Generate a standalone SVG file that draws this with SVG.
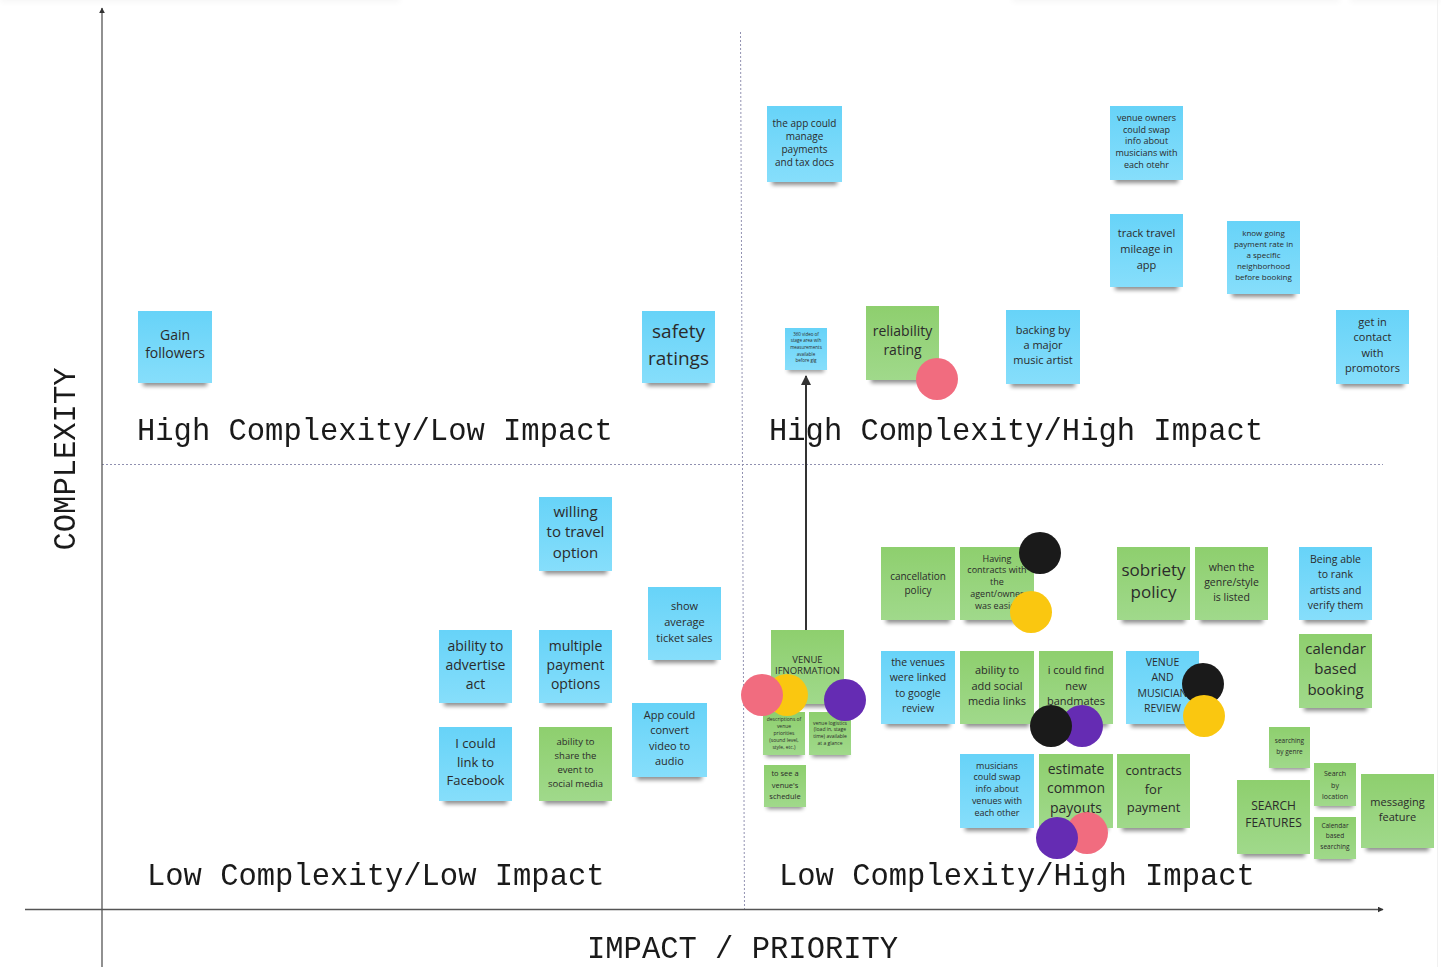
<svg xmlns="http://www.w3.org/2000/svg" width="1441" height="967" viewBox="0 0 1441 967">
<defs>
<linearGradient id="gb" x1="0" y1="0" x2="0" y2="1"><stop offset="0" stop-color="#67d3f8"/><stop offset="1" stop-color="#86defb"/></linearGradient>
<linearGradient id="gg" x1="0" y1="0" x2="0" y2="1"><stop offset="0" stop-color="#8ecf6e"/><stop offset="1" stop-color="#a0d98b"/></linearGradient>
<filter id="blur" x="-20%" y="-100%" width="140%" height="300%"><feGaussianBlur stdDeviation="2.2"/></filter>
<filter id="blur2" x="-5%" y="-200%" width="110%" height="500%"><feGaussianBlur stdDeviation="3"/></filter>
<marker id="ah" viewBox="0 0 10 10" refX="9" refY="5" markerWidth="6" markerHeight="6" orient="auto-start-reverse" markerUnits="userSpaceOnUse"><path d="M0,0 L10,5 L0,10 z" fill="#333"/></marker>
<marker id="ah2" viewBox="0 0 10 10" refX="9" refY="5" markerWidth="10" markerHeight="10" orient="auto" markerUnits="userSpaceOnUse"><path d="M0,0 L10,5 L0,10 z" fill="#333"/></marker>
</defs>
<style>
.b{fill:url(#gb)}
.g{fill:url(#gg)}
.sh{fill:#000;opacity:.45;filter:url(#blur)}
.t{font-family:"Open Sans","Noto Sans",sans-serif;fill:#2b2b2b;text-anchor:middle}
.q{font-family:"Liberation Mono","DejaVu Sans Mono",monospace;font-size:30.5px;fill:#1a1a1a}
.ax{stroke:#555;stroke-width:1.3;fill:none}
.dv{stroke:#9090b0;stroke-width:1;stroke-dasharray:2 2;fill:none}
.pk{fill:#f16c7f}.yl{fill:#fac710}.bk{fill:#1a1a1a}.pu{fill:#652cb3}
</style>
<rect width="1441" height="967" fill="#fff"/>
<g id="edges-top" opacity="0.5">
<rect x="0" y="-8" width="400" height="10" fill="#000" opacity="0.08" filter="url(#blur2)"/>
<rect x="1012" y="-8" width="328" height="10" fill="#000" opacity="0.08" filter="url(#blur2)"/>
<rect x="1350" y="-8" width="91" height="10" fill="#000" opacity="0.08" filter="url(#blur2)"/>
<line x1="1437.5" y1="0" x2="1437.5" y2="967" stroke="#e2e2e2" stroke-width="1"/>
</g>
<g id="axes">
<line class="dv" x1="740.5" y1="32" x2="744.5" y2="909"/>
<line class="dv" x1="102" y1="464.5" x2="1383" y2="464.5"/>
<line class="ax" x1="102" y1="967" x2="102" y2="8" marker-end="url(#ah)"/>
<line class="ax" x1="25" y1="909.5" x2="1383" y2="909.5" marker-end="url(#ah)"/>
<text class="q" x="587" y="958">IMPACT / PRIORITY</text>
<text class="q" transform="translate(75,459) rotate(-90)" text-anchor="middle">COMPLEXITY</text>
</g>
<g id="labels">
<text class="q" x="137" y="440">High Complexity/Low Impact</text>
<text class="q" x="769" y="440">High Complexity/High Impact</text>
<text class="q" x="147" y="885">Low Complexity/Low Impact</text>
<text class="q" x="779" y="885">Low Complexity/High Impact</text>
</g>

<g id="n-gain"><rect class="sh" x="143" y="379" width="64" height="7"/><rect class="b" x="138" y="311" width="74" height="72"/><text class="t" font-size="14"><tspan x="175" y="340">Gain</tspan><tspan x="175" y="358">followers</tspan></text></g>
<g id="n-safety"><rect class="sh" x="647" y="379" width="63" height="7"/><rect class="b" x="642" y="311" width="73" height="72"/><text class="t" font-size="19"><tspan x="678.5" y="338">safety</tspan><tspan x="678.5" y="365">ratings</tspan></text></g>
<g id="n-app-payments"><rect class="sh" x="772" y="178" width="65" height="7"/><rect class="b" x="767" y="106" width="75" height="76"/><text class="t" font-size="10"><tspan x="804.5" y="126.5">the app could</tspan><tspan x="804.5" y="139.5">manage</tspan><tspan x="804.5" y="152.5">payments</tspan><tspan x="804.5" y="165.5">and tax docs</tspan></text></g>
<g id="n-venue-owners"><rect class="sh" x="1115" y="176" width="63" height="7"/><rect class="b" x="1110" y="106" width="73" height="74"/><text class="t" font-size="9"><tspan x="1146.5" y="121">venue owners</tspan><tspan x="1146.5" y="133">could swap</tspan><tspan x="1146.5" y="144">info about</tspan><tspan x="1146.5" y="156">musicians with</tspan><tspan x="1146.5" y="168">each otehr</tspan></text></g>
<g id="n-mileage"><rect class="sh" x="1115" y="283" width="63" height="7"/><rect class="b" x="1110" y="214" width="73" height="73"/><text class="t" font-size="11"><tspan x="1146.5" y="237">track travel</tspan><tspan x="1146.5" y="253">mileage in</tspan><tspan x="1146.5" y="269">app</tspan></text></g>
<g id="n-payment-rate"><rect class="sh" x="1232" y="290" width="63" height="7"/><rect class="b" x="1227" y="221" width="73" height="73"/><text class="t" font-size="8"><tspan x="1263.5" y="236">know going</tspan><tspan x="1263.5" y="247">payment rate in</tspan><tspan x="1263.5" y="258">a specific</tspan><tspan x="1263.5" y="269">neighborhood</tspan><tspan x="1263.5" y="280">before booking</tspan></text></g>
<g id="n-360-video"><rect class="sh" x="788" y="367" width="36" height="5"/><rect class="b" x="785" y="328" width="42" height="42"/><text class="t" font-size="4.5"><tspan x="806" y="335.5">360 video of</tspan><tspan x="806" y="342">stage area wih</tspan><tspan x="806" y="349">measurements</tspan><tspan x="806" y="355.5">available</tspan><tspan x="806" y="362">before gig</tspan></text></g>
<g id="n-backing"><rect class="sh" x="1011" y="380" width="64" height="7"/><rect class="b" x="1006" y="310" width="74" height="74"/><text class="t" font-size="11"><tspan x="1043" y="334">backing by</tspan><tspan x="1043" y="349">a major</tspan><tspan x="1043" y="364">music artist</tspan></text></g>
<g id="n-promotors"><rect class="sh" x="1341" y="380" width="63" height="7"/><rect class="b" x="1336" y="310" width="73" height="74"/><text class="t" font-size="11"><tspan x="1372.5" y="326">get in</tspan><tspan x="1372.5" y="341">contact</tspan><tspan x="1372.5" y="357">with</tspan><tspan x="1372.5" y="372">promotors</tspan></text></g>
<g id="n-reliability"><rect class="sh" x="871" y="376" width="63" height="7"/><rect class="g" x="866" y="306" width="73" height="74"/><text class="t" font-size="14"><tspan x="902.5" y="336">reliability</tspan><tspan x="902.5" y="355">rating</tspan></text></g>

<g id="n-travel"><rect class="sh" x="544" y="567" width="63" height="7"/><rect class="b" x="539" y="497" width="73" height="74"/><text class="t" font-size="15"><tspan x="575.5" y="517">willing</tspan><tspan x="575.5" y="537">to travel</tspan><tspan x="575.5" y="558">option</tspan></text></g>
<g id="n-ticket-sales"><rect class="sh" x="653" y="656" width="63" height="7"/><rect class="b" x="648" y="587" width="73" height="73"/><text class="t" font-size="11"><tspan x="684.5" y="610">show</tspan><tspan x="684.5" y="626">average</tspan><tspan x="684.5" y="642">ticket sales</tspan></text></g>
<g id="n-advertise"><rect class="sh" x="444" y="699" width="63" height="7"/><rect class="b" x="439" y="630" width="73" height="73"/><text class="t" font-size="14"><tspan x="475.5" y="651">ability to</tspan><tspan x="475.5" y="670">advertise</tspan><tspan x="475.5" y="689">act</tspan></text></g>
<g id="n-multi-payment"><rect class="sh" x="544" y="699" width="63" height="7"/><rect class="b" x="539" y="630" width="73" height="73"/><text class="t" font-size="14"><tspan x="575.5" y="651">multiple</tspan><tspan x="575.5" y="670">payment</tspan><tspan x="575.5" y="689">options</tspan></text></g>
<g id="n-convert"><rect class="sh" x="637" y="773" width="65" height="7"/><rect class="b" x="632" y="703" width="75" height="74"/><text class="t" font-size="11"><tspan x="669.5" y="719">App could</tspan><tspan x="669.5" y="734">convert</tspan><tspan x="669.5" y="750">video to</tspan><tspan x="669.5" y="765">audio</tspan></text></g>
<g id="n-facebook"><rect class="sh" x="444" y="797" width="63" height="7"/><rect class="b" x="439" y="727" width="73" height="74"/><text class="t" font-size="13"><tspan x="475.5" y="748">I could</tspan><tspan x="475.5" y="767">link to</tspan><tspan x="475.5" y="785">Facebook</tspan></text></g>
<g id="n-share"><rect class="sh" x="544" y="797" width="63" height="7"/><rect class="g" x="539" y="727" width="73" height="74"/><text class="t" font-size="9.5"><tspan x="575.5" y="745">ability to</tspan><tspan x="575.5" y="759">share the</tspan><tspan x="575.5" y="773">event to</tspan><tspan x="575.5" y="787">social media</tspan></text></g>

<g id="n-cancellation"><rect class="sh" x="886" y="616" width="64" height="7"/><rect class="g" x="881" y="547" width="74" height="73"/><text class="t" font-size="10"><tspan x="918" y="579.5">cancellation</tspan><tspan x="918" y="593.5">policy</tspan></text></g>
<g id="n-contracts-agent"><rect class="sh" x="965" y="616" width="64" height="7"/><rect class="g" x="960" y="547" width="74" height="73"/><text class="t" font-size="9"><tspan x="997" y="562">Having</tspan><tspan x="997" y="573">contracts with</tspan><tspan x="997" y="585">the</tspan><tspan x="997" y="597">agent/owner</tspan><tspan x="997" y="609">was easier</tspan></text></g>
<g id="n-sobriety"><rect class="sh" x="1122" y="616" width="63" height="7"/><rect class="g" x="1117" y="547" width="73" height="73"/><text class="t" font-size="17"><tspan x="1153.5" y="576">sobriety</tspan><tspan x="1153.5" y="598">policy</tspan></text></g>
<g id="n-genre"><rect class="sh" x="1200" y="616" width="63" height="7"/><rect class="g" x="1195" y="547" width="73" height="73"/><text class="t" font-size="10.5"><tspan x="1231.5" y="571">when the</tspan><tspan x="1231.5" y="586">genre/style</tspan><tspan x="1231.5" y="601">is listed</tspan></text></g>
<g id="n-rank"><rect class="sh" x="1304" y="616" width="63" height="7"/><rect class="b" x="1299" y="547" width="73" height="73"/><text class="t" font-size="10.5"><tspan x="1335.5" y="563">Being able</tspan><tspan x="1335.5" y="578">to rank</tspan><tspan x="1335.5" y="594">artists and</tspan><tspan x="1335.5" y="609">verify them</tspan></text></g>
<g id="n-calendar-booking"><rect class="sh" x="1304" y="704" width="63" height="7"/><rect class="g" x="1299" y="634" width="73" height="74"/><text class="t" font-size="15"><tspan x="1335.5" y="654">calendar</tspan><tspan x="1335.5" y="674">based</tspan><tspan x="1335.5" y="695">booking</tspan></text></g>
<g id="n-venue-info"><rect class="sh" x="776" y="700" width="63" height="7"/><rect class="g" x="771" y="630" width="73" height="74"/><text class="t" font-size="9.5"><tspan x="807.5" y="663">VENUE</tspan><tspan x="807.5" y="674">IFNORMATION</tspan></text></g>
<g id="n-google"><rect class="sh" x="886" y="720" width="64" height="7"/><rect class="b" x="881" y="651" width="74" height="73"/><text class="t" font-size="10.5"><tspan x="918" y="666">the venues</tspan><tspan x="918" y="681">were linked</tspan><tspan x="918" y="697">to google</tspan><tspan x="918" y="712">review</tspan></text></g>
<g id="n-social-links"><rect class="sh" x="965" y="720" width="64" height="7"/><rect class="g" x="960" y="651" width="74" height="73"/><text class="t" font-size="11"><tspan x="997" y="674">ability to</tspan><tspan x="997" y="690">add social</tspan><tspan x="997" y="705">media links</tspan></text></g>
<g id="n-bandmates"><rect class="sh" x="1044" y="720" width="64" height="7"/><rect class="g" x="1039" y="651" width="74" height="73"/><text class="t" font-size="11"><tspan x="1076" y="674">i could find</tspan><tspan x="1076" y="690">new</tspan><tspan x="1076" y="705">bandmates</tspan></text></g>
<g id="n-review"><rect class="sh" x="1131" y="720" width="63" height="7"/><rect class="b" x="1126" y="651" width="73" height="73"/><text class="t" font-size="10.5"><tspan x="1162.5" y="666">VENUE</tspan><tspan x="1162.5" y="681">AND</tspan><tspan x="1162.5" y="697">MUSICIAN</tspan><tspan x="1162.5" y="712">REVIEW</tspan></text></g>
<g id="n-descriptions"><rect class="sh" x="766" y="751" width="36" height="6"/><rect class="g" x="763" y="712" width="42" height="43"/><text class="t" font-size="5"><tspan x="784" y="721">descriptions of</tspan><tspan x="784" y="728">venue</tspan><tspan x="784" y="735">priorities</tspan><tspan x="784" y="742">(sound level,</tspan><tspan x="784" y="749">style, etc.)</tspan></text></g>
<g id="n-logistics"><rect class="sh" x="812" y="751" width="36" height="6"/><rect class="g" x="809" y="712" width="42" height="43"/><text class="t" font-size="5"><tspan x="830" y="725">venue logistics</tspan><tspan x="830" y="731">(load in, stage</tspan><tspan x="830" y="738">time) available</tspan><tspan x="830" y="745">at a glance</tspan></text></g>
<g id="n-schedule"><rect class="sh" x="767" y="803" width="36" height="6"/><rect class="g" x="764" y="765" width="42" height="42"/><text class="t" font-size="7.5"><tspan x="785" y="776">to see a</tspan><tspan x="785" y="788">venue's</tspan><tspan x="785" y="799">schedule</tspan></text></g>
<g id="n-swap-venues"><rect class="sh" x="965" y="824" width="64" height="7"/><rect class="b" x="960" y="754" width="74" height="74"/><text class="t" font-size="9"><tspan x="997" y="769">musicians</tspan><tspan x="997" y="780">could swap</tspan><tspan x="997" y="792">info about</tspan><tspan x="997" y="804">venues with</tspan><tspan x="997" y="816">each other</tspan></text></g>
<g id="n-payouts"><rect class="sh" x="1044" y="824" width="64" height="7"/><rect class="g" x="1039" y="754" width="74" height="74"/><text class="t" font-size="14"><tspan x="1076" y="774">estimate</tspan><tspan x="1076" y="793">common</tspan><tspan x="1076" y="813">payouts</tspan></text></g>
<g id="n-contracts-payment"><rect class="sh" x="1122" y="824" width="63" height="7"/><rect class="g" x="1117" y="754" width="73" height="74"/><text class="t" font-size="13"><tspan x="1153.5" y="775">contracts</tspan><tspan x="1153.5" y="794">for</tspan><tspan x="1153.5" y="812">payment</tspan></text></g>
<g id="n-search-genre"><rect class="sh" x="1272" y="764" width="35" height="6"/><rect class="g" x="1269" y="727" width="41" height="41"/><text class="t" font-size="6.5"><tspan x="1289.5" y="743">searching</tspan><tspan x="1289.5" y="754">by genre</tspan></text></g>
<g id="n-search-features"><rect class="sh" x="1242" y="850" width="63" height="7"/><rect class="g" x="1237" y="780" width="73" height="74"/><text class="t" font-size="12"><tspan x="1273.5" y="810">SEARCH</tspan><tspan x="1273.5" y="827">FEATURES</tspan></text></g>
<g id="n-search-location"><rect class="sh" x="1317" y="802" width="36" height="6"/><rect class="g" x="1314" y="763" width="42" height="43"/><text class="t" font-size="7"><tspan x="1335" y="775.5">Search</tspan><tspan x="1335" y="787.5">by</tspan><tspan x="1335" y="798.5">location</tspan></text></g>
<g id="n-calendar-search"><rect class="sh" x="1317" y="855" width="36" height="6"/><rect class="g" x="1314" y="817" width="42" height="42"/><text class="t" font-size="6.5"><tspan x="1335" y="828">Calendar</tspan><tspan x="1335" y="838">based</tspan><tspan x="1335" y="849">searching</tspan></text></g>
<g id="n-messaging"><rect class="sh" x="1366" y="844" width="63" height="7"/><rect class="g" x="1361" y="774" width="73" height="74"/><text class="t" font-size="11"><tspan x="1397.5" y="806">messaging</tspan><tspan x="1397.5" y="821">feature</tspan></text></g>

<g id="connectors">
<line x1="806" y1="630" x2="806" y2="376" stroke="#333" stroke-width="2" marker-end="url(#ah2)"/>
</g>

<g id="dots">
<circle class="pk" cx="937" cy="379" r="21"/>
<circle class="bk" cx="1040" cy="553" r="21"/>
<circle class="yl" cx="1031" cy="612" r="21"/>
<circle class="yl" cx="787" cy="695" r="21"/>
<circle class="pk" cx="762" cy="695" r="21"/>
<circle class="pu" cx="845" cy="700" r="21"/>
<circle class="bk" cx="1203" cy="684" r="21"/>
<circle class="yl" cx="1204" cy="716" r="21"/>
<circle class="pu" cx="1082" cy="726" r="21"/>
<circle class="bk" cx="1051" cy="726" r="21"/>
<circle class="pk" cx="1087" cy="833" r="21"/>
<circle class="pu" cx="1057" cy="838" r="21"/>
</g>
</svg>
